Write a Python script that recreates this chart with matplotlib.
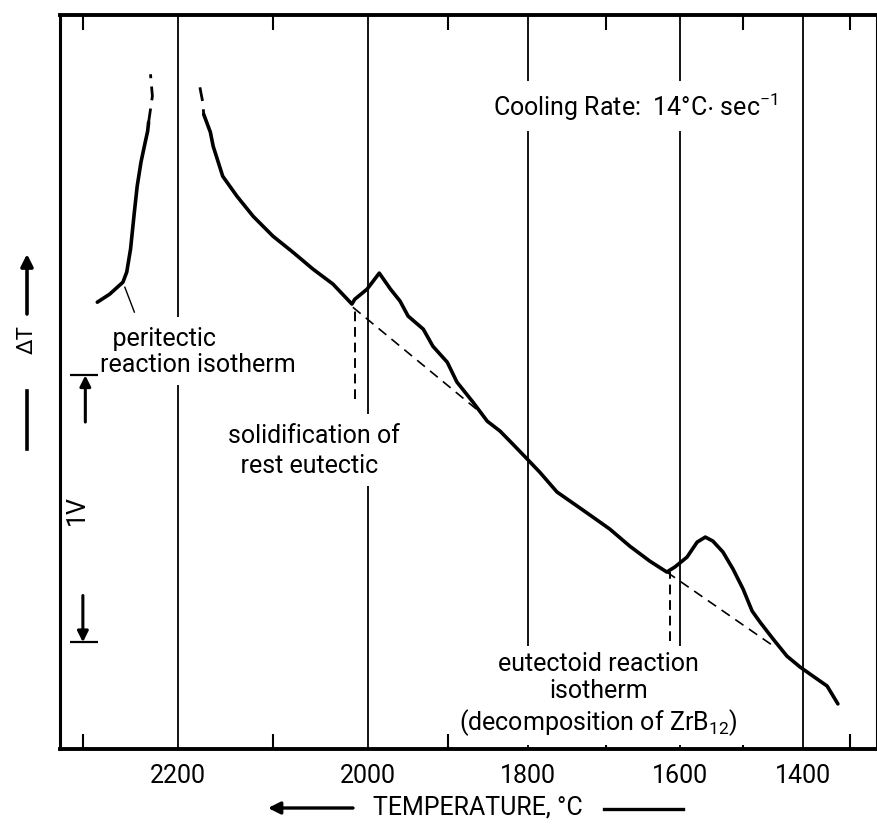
import matplotlib
matplotlib.use('Agg')
import matplotlib.pyplot as plt
import matplotlib.transforms as mtransforms
from matplotlib.patches import FancyArrowPatch
import numpy as np
from matplotlib.ticker import FixedLocator, NullFormatter

plt.rcParams['font.family'] = ['Roboto', 'DejaVu Sans']
plt.rcParams['font.stretch'] = 'condensed'
plt.rcParams['mathtext.fontset'] = 'custom'
plt.rcParams['mathtext.rm'] = 'Roboto'
plt.rcParams['mathtext.default'] = 'regular'

W, H = 878, 828
FS = 18

# the recorder chart's temperature axis is not linear: deg C -> chart position
scale_temp = [2350, 2300, 2200, 2100, 2000, 1900, 1800, 1700, 1600, 1500, 1400, 1300, 1200]
scale_pos = [35, 83, 178, 273, 368, 448, 528, 606, 680, 743, 803, 850, 892]

major_temps = [2200, 2000, 1800, 1600, 1400]
minor_temps = [2300, 2100, 1900, 1700, 1500, 1300]

# DTA trace (signal in V) vs temperature (deg C)
peri_T = [2285, 2272, 2258, 2254, 2250, 2246, 2243, 2239, 2235, 2232, 2231]
peri_V = [1.674, 1.704, 1.749, 1.787, 1.873, 2.011, 2.109, 2.199, 2.266, 2.315, 2.348]
peri_off_T = [2231, 2227, 2229]
peri_off_V = [2.348, 2.446, 2.528]

cool_off_T = [2177, 2174, 2173]
cool_off_V = [2.479, 2.423, 2.378]
cool_T = [2173, 2166, 2163, 2153, 2138, 2121, 2100, 2079, 2058, 2037,
          2017, 2014, 2001, 1986, 1972, 1960, 1950, 1931, 1919, 1901,
          1889, 1869, 1851, 1835, 1819, 1801, 1785, 1763, 1737, 1717,
          1695, 1668, 1641, 1618, 1607, 1589, 1573, 1560, 1548, 1532,
          1516, 1500, 1485, 1472, 1450, 1427, 1405, 1379, 1349, 1326]
cool_V = [2.378, 2.311, 2.258, 2.146, 2.071, 1.996, 1.921, 1.861, 1.798, 1.742,
          1.667, 1.685, 1.723, 1.783, 1.723, 1.678, 1.622, 1.573, 1.509, 1.449,
          1.375, 1.300, 1.228, 1.191, 1.142, 1.086, 1.037, 0.963, 0.910, 0.869,
          0.824, 0.760, 0.704, 0.663, 0.682, 0.719, 0.775, 0.794, 0.779, 0.738,
          0.674, 0.599, 0.517, 0.476, 0.412, 0.348, 0.307, 0.273, 0.236, 0.169]

# extrapolated baselines under the two arrests
base1_T = [2016, 1860]
base1_V = [1.655, 1.262]
base2_T = [1618, 1447]
base2_V = [0.663, 0.382]

# isotherm markers
iso_T = [2014, 1614]
iso_top = [1.655, 0.663]
iso_bottom = [1.311, 0.404]

leader_T = [2256, 2246]
leader_V = [1.730, 1.637]

bar_top, bar_bottom = 1.4, 0.4   # 1 V scale bar


def forward(t):
    # increasing in t; the axis limits below put high temperature on the left
    return -np.interp(t, scale_temp[::-1], scale_pos[::-1])


def inverse(p):
    return np.interp(-np.asarray(p, dtype=float), scale_pos, scale_temp)


def fig_xy(x, y):
    return (x / W, 1 - y / H)


fig = plt.figure(figsize=(W / 100, H / 100), dpi=100)
ax = fig.add_axes([60 / W, 1 - 750 / H, 817 / W, 734 / H])
ax.set_xscale('function', functions=(forward, inverse))
ax.set_xlim(2324, 1236)
ax.set_ylim(0, 2.75)
ax.set_axisbelow(True)

ax.xaxis.set_major_locator(FixedLocator(major_temps))
ax.xaxis.set_minor_locator(FixedLocator(minor_temps))
ax.xaxis.set_minor_formatter(NullFormatter())
ax.set_xticklabels([str(t) for t in major_temps])
ax.xaxis.set_ticks_position('both')
ax.tick_params(axis='x', which='major', length=0, pad=10, labelsize=FS)
ax.tick_params(axis='x', which='minor', direction='in', length=11, width=1.5,
               top=True, bottom=True)
ax.set_yticks([])
ax.grid(True, which='major', axis='x', color='black', linewidth=1.3)

for side, lw in [('top', 2.8), ('bottom', 2.8), ('left', 2.2), ('right', 1.5)]:
    ax.spines[side].set_linewidth(lw)

# trace
ax.plot(peri_T, peri_V, color='black', linewidth=2.6, solid_capstyle='round')
ax.plot(peri_off_T, peri_off_V, color='black', linewidth=2.0, linestyle=(0, (5, 3)))
ax.plot(cool_off_T, cool_off_V, color='black', linewidth=2.0, linestyle=(0, (5, 3)))
ax.plot(cool_T, cool_V, color='black', linewidth=2.6, solid_joinstyle='round',
        solid_capstyle='round')

ax.plot(base1_T, base1_V, color='black', linewidth=1.2, linestyle=(0, (6, 4)))
ax.plot(base2_T, base2_V, color='black', linewidth=1.2, linestyle=(0, (6, 4)))
ax.vlines(iso_T, iso_bottom, iso_top, colors='black', linewidth=1.4,
          linestyles=[(0, (5, 3))])
ax.plot(leader_T, leader_V, color='black', linewidth=1.0)

# annotations (white boxes break the grid lines like the original)
box = dict(facecolor='white', edgecolor='none', boxstyle='square,pad=0.35')
ax.text(1844, 2.41, r'Cooling Rate:  14°C$\cdot$ sec$^{-1}$', fontsize=FS,
        ha='left', va='center', bbox=box)
ax.text(2282, 1.491, '  peritectic\nreaction isotherm', fontsize=FS, ha='left',
        va='center', linespacing=1.15, bbox=box)
ax.text(2147, 1.12, 'solidification of\n  rest eutectic', fontsize=FS, ha='left',
        va='center', linespacing=1.3, bbox=box)
ax.text(1710, 0.206, 'eutectoid reaction\nisotherm\n(decomposition of ZrB$_{12}$)',
        fontsize=FS, ha='center', va='center', multialignment='center',
        linespacing=1.15, bbox=box)

# 1 V scale bar on the left
bt = mtransforms.blended_transform_factory(ax.transAxes, ax.transData)
ax.hlines([bar_top, bar_bottom], 0.012, 0.047, colors='black', linewidth=1.6,
          transform=bt, zorder=5)
for x, y0, y1 in [(0.031, bar_top - 0.175, bar_top), (0.028, bar_bottom + 0.175, bar_bottom)]:
    ax.annotate('', xy=(x, y1), xytext=(x, y0), xycoords=bt, textcoords=bt,
                arrowprops=dict(arrowstyle='-|>', color='black', lw=2.2,
                                mutation_scale=16, shrinkA=0, shrinkB=0), zorder=5)
ax.text(0.021, (bar_top + bar_bottom) / 2, '1V', transform=bt, rotation=90,
        fontsize=FS, ha='center', va='center')

# delta T label outside the axes
fig.text(*fig_xy(27, 340), 'ΔT', rotation=90, fontsize=16, ha='center', va='center')
fig.add_artist(plt.Line2D(*zip(fig_xy(27, 392), fig_xy(27, 450)), color='black',
                          linewidth=2.6, transform=fig.transFigure))
fig.add_artist(FancyArrowPatch(fig_xy(27, 315), fig_xy(27, 255), transform=fig.transFigure,
                               arrowstyle='-|>', mutation_scale=18, color='black',
                               linewidth=2.6, shrinkA=0, shrinkB=0))

# x axis title with arrows
fig.text(*fig_xy(478, 808), 'TEMPERATURE, °C', fontsize=FS, ha='center', va='center')
fig.add_artist(FancyArrowPatch(fig_xy(353, 809), fig_xy(268, 809), transform=fig.transFigure,
                               arrowstyle='-|>', mutation_scale=18, color='black',
                               linewidth=2.4, shrinkA=0, shrinkB=0))
fig.add_artist(plt.Line2D(*zip(fig_xy(604, 810), fig_xy(683, 810)), color='black',
                          linewidth=2.4, transform=fig.transFigure))

fig.savefig('out.png', dpi=100, facecolor='white')
